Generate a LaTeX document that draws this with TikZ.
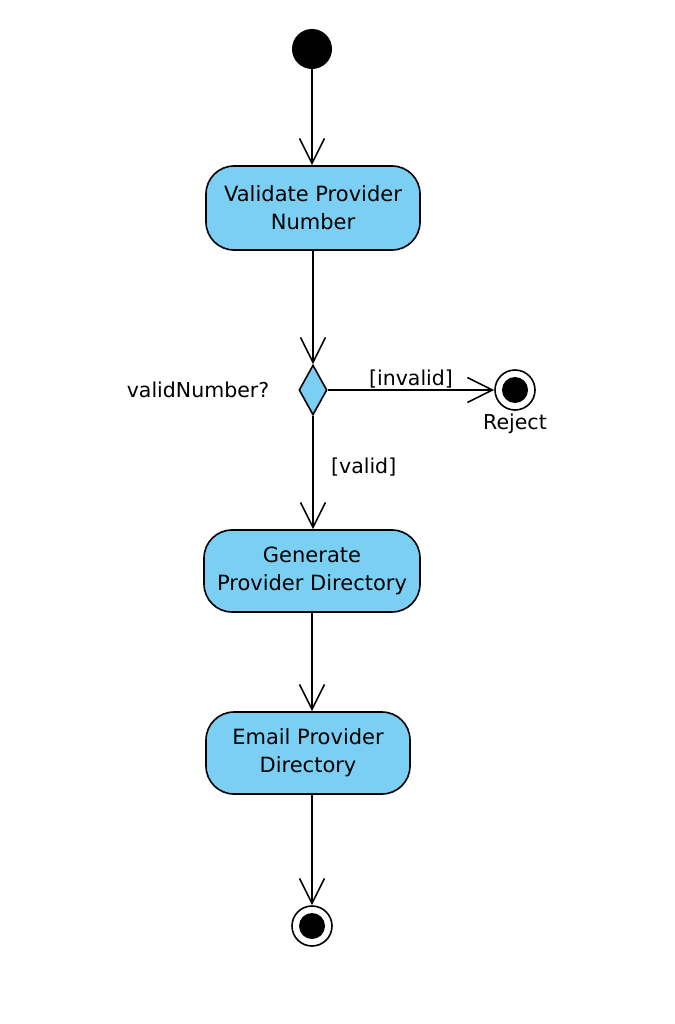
\documentclass[tikz,border=0pt]{standalone}
\usepackage{fontspec}
\setmainfont{DejaVu Sans}
\usetikzlibrary{shapes.geometric,arrows.meta}
\definecolor{actblue}{RGB}{122,207,243}
\begin{document}
\begin{tikzpicture}[x=1pt,y=-1pt,
  action/.style={rectangle,draw,line width=1.6pt,fill=actblue,rounded corners=28pt,
    minimum width=214pt,minimum height=84pt,align=center,font=\fontsize{21}{28}\selectfont},
  decision/.style={diamond,draw,line width=1.6pt,fill=actblue,minimum width=28pt,
    minimum height=50pt,inner sep=0pt},
  initial/.style={circle,fill=black,minimum size=40pt,inner sep=0pt},
  final/.style={circle,draw,line width=1.6pt,fill=white,minimum size=40pt,inner sep=0pt,
    path picture={\fill[black] (path picture bounding box.center) circle (13pt);}},
  lbl/.style={font=\fontsize{20.5}{24}\selectfont},
  flow/.style={line width=1.6pt,-{Straight Barb[length=25pt,width=25pt,line width=1.6pt]}}]
\useasboundingbox (0,0) rectangle (674,1024);
\node[initial] (start) at (312,49) {};
\node[action] (validate) at (313,208) {Validate Provider\\Number};
\node[decision] (check) at (313,390) {};
\node[lbl] (question) at (198,390) {validNumber?};
\node[final] (reject) at (515,390) {};
\node[lbl] (rejectlbl) at (515,424) {Reject};
\node[action,minimum width=216pt,minimum height=82pt] (generate) at (312,571) {Generate\\Provider Directory};
\node[action,minimum width=204pt,minimum height=82pt] (email) at (308,753) {Email Provider\\Directory};
\node[final] (end) at (312,926) {};
    \draw[flow] (start) -- (validate.north -| start);
    \draw[flow] (validate.south -| check) -- (check.north);
    \draw[flow] (check.east) -- node[lbl,above=-2pt] (invalid) {[invalid]} (reject.west);
    \draw[flow] (check.south) -- node[lbl,pos=0.45,right=14pt] (valid) {[valid]} (generate.north -| check);
    \draw[flow] (generate.south -| end) -- (email.north -| end);
    \draw[flow] (email.south -| end) -- (end.north);
\end{tikzpicture}
\end{document}
